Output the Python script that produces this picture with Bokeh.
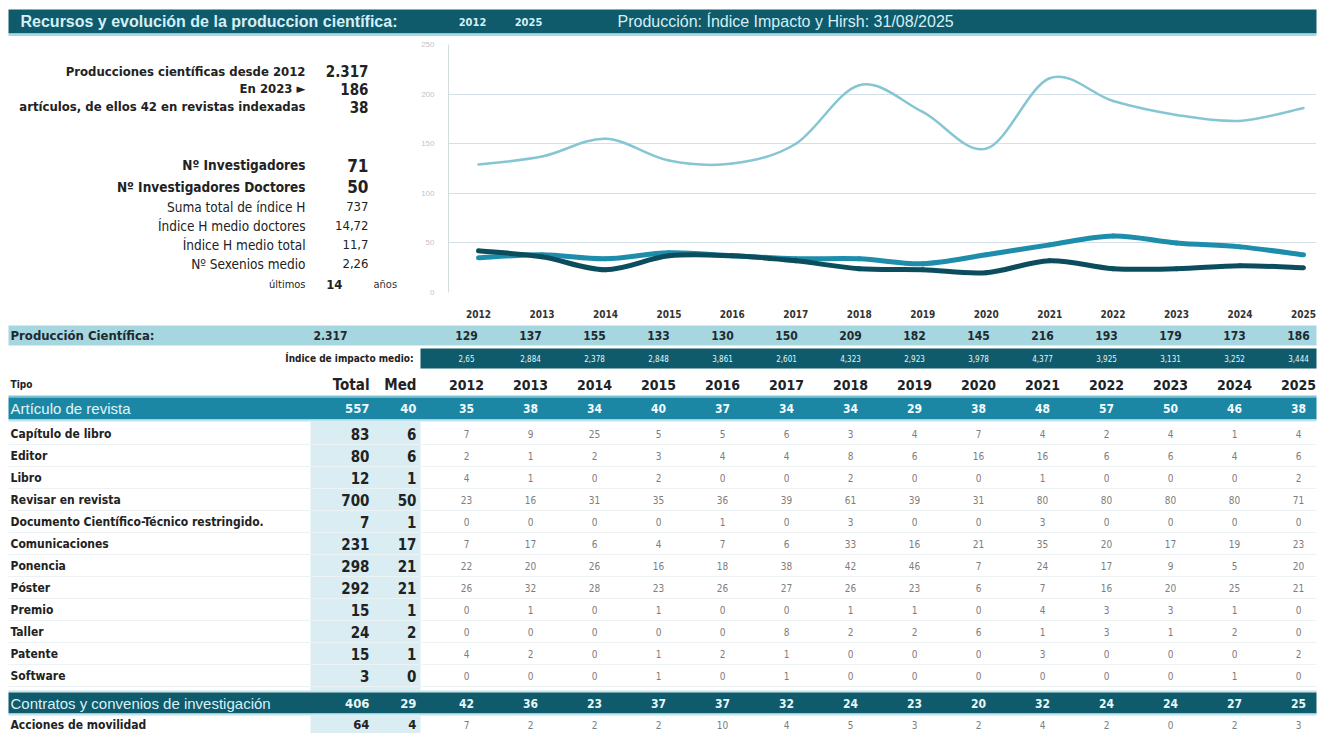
from bokeh.plotting import figure
from bokeh.layouts import column, row
from bokeh.models import Range1d, FixedTicker
from bokeh.embed import file_html
from bokeh.resources import INLINE
from bokeh.core.properties import value

# ---------------- data ----------------
years = [str(y) for y in range(2012, 2026)]
produccion = [129, 137, 155, 133, 130, 150, 209, 182, 145, 216, 193, 179, 173, 186]
impacto = ["2,65", "2,884", "2,378", "2,848", "3,861", "2,601", "4,323",
           "2,923", "3,978", "4,377", "3,925", "3,131", "3,252", "3,444"]

articulo = [35, 38, 34, 40, 37, 34, 34, 29, 38, 48, 57, 50, 46, 38]
contratos = [42, 36, 23, 37, 37, 32, 24, 23, 20, 32, 24, 24, 27, 25]

tipos = ["Capítulo de libro", "Editor", "Libro", "Revisar en revista",
         "Documento Científico-Técnico restringido.", "Comunicaciones", "Ponencia",
         "Póster", "Premio", "Taller", "Patente", "Software"]
tipos_total = [83, 80, 12, 700, 7, 231, 298, 292, 15, 24, 15, 3]
tipos_med = [6, 6, 1, 50, 1, 17, 21, 21, 1, 2, 1, 0]
capitulo = [7, 9, 25, 5, 5, 6, 3, 4, 7, 4, 2, 4, 1, 4]
editor = [2, 1, 2, 3, 4, 4, 8, 6, 16, 16, 6, 6, 4, 6]
libro = [4, 1, 0, 2, 0, 0, 2, 0, 0, 1, 0, 0, 0, 2]
revisar = [23, 16, 31, 35, 36, 39, 61, 39, 31, 80, 80, 80, 80, 71]
documento = [0, 0, 0, 0, 1, 0, 3, 0, 0, 3, 0, 0, 0, 0]
comunicaciones = [7, 17, 6, 4, 7, 6, 33, 16, 21, 35, 20, 17, 19, 23]
ponencia = [22, 20, 26, 16, 18, 38, 42, 46, 7, 24, 17, 9, 5, 20]
poster = [26, 32, 28, 23, 26, 27, 26, 23, 6, 7, 16, 20, 25, 21]
premio = [0, 1, 0, 1, 0, 0, 1, 1, 0, 4, 3, 3, 1, 0]
taller = [0, 0, 0, 0, 0, 8, 2, 2, 6, 1, 3, 1, 2, 0]
patente = [4, 2, 0, 1, 2, 1, 0, 0, 0, 3, 0, 0, 0, 2]
software = [0, 0, 0, 1, 0, 1, 0, 0, 0, 0, 0, 0, 1, 0]
tipos_valores = [capitulo, editor, libro, revisar, documento, comunicaciones,
                 ponencia, poster, premio, taller, patente, software]

movilidad = [7, 2, 2, 2, 10, 4, 5, 3, 2, 4, 2, 0, 2, 3]

grupo_labels = ["Artículo de revista", "Contratos y convenios de investigación", "Acciones de movilidad"]
grupo_total = [557, 406, 64]
grupo_med = [40, 29, 4]

stat_labels = ["Producciones científicas desde 2012", "En 2023 ►",
               "artículos, de ellos 42 en revistas indexadas",
               "Nº Investigadores", "Nº Investigadores Doctores",
               "Suma total de índice H", "Índice H medio doctores",
               "Índice H medio total", "Nº Sexenios medio", "últimos"]
stat_values = ["2.317", "186", "38", "71", "50", "737", "14,72", "11,7", "2,26", "14"]
total_produccion = "2.317"

# ---------------- style ----------------
NARROW = "'Liberation Sans Narrow', 'Arial Narrow', 'DejaVu Sans Condensed', sans-serif"
SANS = "'Liberation Sans', Arial, sans-serif"
DARK = "#0f5a6b"
MID = "#1b87a4"
LIGHTBAND = "#a6d7e0"
COLBG = "#d9edf3"
HEADTXT = "#d4f0f6"
W = 1324


def base_fig(w, h, x0, x1, y_top, y_bot):
    f = figure(width=w, height=h, x_range=Range1d(x0, x1), y_range=Range1d(y_bot, y_top),
               output_backend="svg", toolbar_location=None, x_axis_type=None, y_axis_type=None,
               min_border=0, outline_line_color=None)
    f.grid.visible = False
    f.background_fill_color = "white"
    f.border_fill_color = "white"
    return f


def txt(f, xs, ys, texts, size, color, align="center", style="normal", font=NARROW):
    f.text(x=xs, y=ys, text=texts, text_font=value(font), text_font_size=f"{size}px",
           text_color=color, text_align=align, text_baseline="middle", text_font_style=style)


col_x = [466 + 64 * i for i in range(len(years))]

# ---------------- header ----------------
head = base_fig(W, 36, 0, W, 0, 36)
head.quad(left=[8], right=[1316], top=[9], bottom=[33], fill_color=DARK, line_color=None)
head.quad(left=[8], right=[1316], top=[33], bottom=[36], fill_color="#a3d9e4", line_color=None)
txt(head, [20], [21], ["Recursos y evolución de la produccion científica:"], 16, HEADTXT,
    align="left", style="bold", font=SANS)
txt(head, [472, 528], [21, 21], [years[0], years[-1]], 11, HEADTXT, style="bold", font=NARROW)
txt(head, [617], [21], ["Producción: Índice Impacto y Hirsh: 31/08/2025"], 16, HEADTXT,
    align="left", font=SANS)

# ---------------- left stats ----------------
stats = base_fig(408, 286, 0, 408, 36, 322)
stat_y = [67, 87, 108, 175, 200, 223, 245, 267, 289, 313]
lab_size = [13, 13, 13, 13.5, 13.5, 13.5, 13.5, 13.5, 13.5, 11]
lab_style = ["bold"] * 5 + ["normal"] * 5
val_size = [15, 15, 15, 17, 17, 13, 13, 13, 13, 13]
val_style = ["bold"] * 5 + ["normal"] * 4 + ["bold"]
for i in range(len(stat_labels)):
    txt(stats, [305], [stat_y[i]], [stat_labels[i]], lab_size[i], "#222222", align="right",
        style=lab_style[i])
    vx = 342 if i == len(stat_labels) - 1 else 368
    txt(stats, [vx], [stat_y[i]], [stat_values[i]], val_size[i], "#222222", align="right",
        style=val_style[i])
txt(stats, [373], [313], ["años"], 11, "#333333", align="left")

# ---------------- chart ----------------
idx = list(range(len(years)))
chart = figure(width=W - 408, height=286, x_range=Range1d(-0.473, 13.205), y_range=Range1d(0, 250),
               output_backend="svg", toolbar_location=None, min_border_left=40,
               min_border_right=8, min_border_top=8, min_border_bottom=30,
               outline_line_color=None)
chart.background_fill_color = "white"
chart.border_fill_color = "white"
chart.xgrid.visible = False
chart.ygrid.grid_line_color = "#d3e1e6"
chart.ygrid.grid_line_width = 1
chart.yaxis.ticker = FixedTicker(ticks=[0, 50, 100, 150, 200, 250])
chart.yaxis.major_label_text_color = "#c4c4c4"
chart.yaxis.major_label_text_font_size = "8px"
chart.yaxis.axis_line_color = "#d3dde0"
chart.yaxis.major_tick_line_color = None
chart.yaxis.minor_tick_line_color = None
chart.yaxis.major_label_standoff = 8
chart.xaxis.ticker = FixedTicker(ticks=idx)
chart.xaxis.major_label_overrides = {i: y for i, y in zip(idx, years)}
chart.xaxis.axis_line_color = None
chart.xaxis.major_tick_line_color = None
chart.xaxis.minor_tick_line_color = None
chart.xaxis.major_label_text_font = NARROW
chart.xaxis.major_label_text_font_style = "bold"
chart.xaxis.major_label_text_font_size = "10px"
chart.xaxis.major_label_text_color = "#333333"
chart.xaxis.major_label_standoff = 11


def smooth(vals):
    n = len(vals)
    s = dict(x0=[], y0=[], x1=[], y1=[], cx0=[], cy0=[], cx1=[], cy1=[])
    for i in range(n - 1):
        a, b = max(i - 1, 0), min(i + 2, n - 1)
        s["x0"].append(idx[i]); s["y0"].append(vals[i])
        s["x1"].append(idx[i + 1]); s["y1"].append(vals[i + 1])
        s["cx0"].append(idx[i] + (idx[i + 1] - idx[a]) / 6)
        s["cy0"].append(vals[i] + (vals[i + 1] - vals[a]) / 6)
        s["cx1"].append(idx[i + 1] - (idx[b] - idx[i]) / 6)
        s["cy1"].append(vals[i + 1] - (vals[b] - vals[i]) / 6)
    return s


chart.bezier(**smooth(produccion), line_color="#86c6d4", line_width=2.5, line_cap="round")
chart.bezier(**smooth(articulo), line_color="#1e8dab", line_width=5, line_cap="round")
chart.bezier(**smooth(contratos), line_color="#0b4d5d", line_width=5, line_cap="round")

# ---------------- table ----------------
tab = base_fig(W, 733 - 322, 0, W, 322, 733)
# produccion row
tab.quad(left=[8], right=[1316], top=[325], bottom=[345], fill_color=LIGHTBAND, line_color=None)
txt(tab, [10], [335], ["Producción Científica:"], 13, "#1e2a2e", align="left", style="bold")
txt(tab, [330], [335], [total_produccion], 12, "#1e2a2e", style="bold")
txt(tab, col_x, [335] * len(years), [str(v) for v in produccion], 12, "#1e2a2e", style="bold")
# impacto row
tab.quad(left=[420], right=[1316], top=[348], bottom=[368], fill_color=DARK, line_color=None)
txt(tab, [413], [358], ["Índice de impacto medio:"], 10, "#222222", align="right", style="bold")
txt(tab, col_x, [358] * len(years), impacto, 8, "#e6f6f9")
# header row
txt(tab, [10], [384], ["Tipo"], 10, "#222222", align="left", style="bold")
txt(tab, [369, 416], [384, 384], ["Total", "Med"], 15, "#222222", align="right", style="bold")
txt(tab, col_x, [384] * len(years), years, 14, "#222222", style="bold")
tab.quad(left=[8], right=[1316], top=[395], bottom=[397], fill_color="#7cc3d3", line_color=None)

# articulo band
tab.quad(left=[8], right=[1316], top=[397], bottom=[419], fill_color=MID, line_color=None)
tab.quad(left=[8], right=[1316], top=[419], bottom=[421], fill_color="#bfe4ec", line_color=None)
txt(tab, [10], [408], [grupo_labels[0]], 15, "#e2f5f9", align="left", font=SANS)
txt(tab, [369, 416], [408, 408], [str(grupo_total[0]), str(grupo_med[0])], 13, "#eaf8fb",
    align="right", style="bold")
txt(tab, col_x, [408] * len(years), [str(v) for v in articulo], 12, "#f2fbfd", style="bold")

# detail rows
row_y = [433 + 22 * i for i in range(len(tipos))]
tab.quad(left=[310], right=[420], top=[421], bottom=[690], fill_color=COLBG, line_color=None)
tab.segment(x0=[8] * len(tipos), x1=[1316] * len(tipos), y0=[y + 11 for y in row_y],
            y1=[y + 11 for y in row_y], line_color="#edf2f4", line_width=1)
txt(tab, [10] * len(tipos), row_y, tipos, 12, "#222222", align="left", style="bold")
txt(tab, [369] * len(tipos), row_y, [str(v) for v in tipos_total], 15, "#222222",
    align="right", style="bold")
txt(tab, [416] * len(tipos), row_y, [str(v) for v in tipos_med], 15, "#222222",
    align="right", style="bold")
for vals, y in zip(tipos_valores, row_y):
    txt(tab, col_x, [y] * len(years), [str(v) for v in vals], 10, "#7d7d7d")

# contratos band
tab.quad(left=[8], right=[1316], top=[690], bottom=[692], fill_color="#bfe4ec", line_color=None)
tab.quad(left=[8], right=[1316], top=[692], bottom=[713], fill_color=DARK, line_color=None)
tab.quad(left=[8], right=[1316], top=[713], bottom=[715], fill_color="#bfe4ec", line_color=None)
txt(tab, [10], [702.5], [grupo_labels[1]], 15, "#d9f1f6", align="left", font=SANS)
txt(tab, [369, 416], [702.5, 702.5], [str(grupo_total[1]), str(grupo_med[1])], 13, "#e6f6f9",
    align="right", style="bold")
txt(tab, col_x, [702.5] * len(years), [str(v) for v in contratos], 12, "#e6f6f9", style="bold")

# movilidad row
tab.quad(left=[310], right=[420], top=[715], bottom=[733], fill_color=COLBG, line_color=None)
txt(tab, [10], [724], [grupo_labels[2]], 12, "#222222", align="left", style="bold")
txt(tab, [369, 416], [724, 724], [str(grupo_total[2]), str(grupo_med[2])], 13, "#222222",
    align="right", style="bold")
txt(tab, col_x, [724] * len(years), [str(v) for v in movilidad], 10, "#7d7d7d")

layout = column(head, row(stats, chart), tab)
open("out.html", "w").write(file_html(layout, INLINE))
